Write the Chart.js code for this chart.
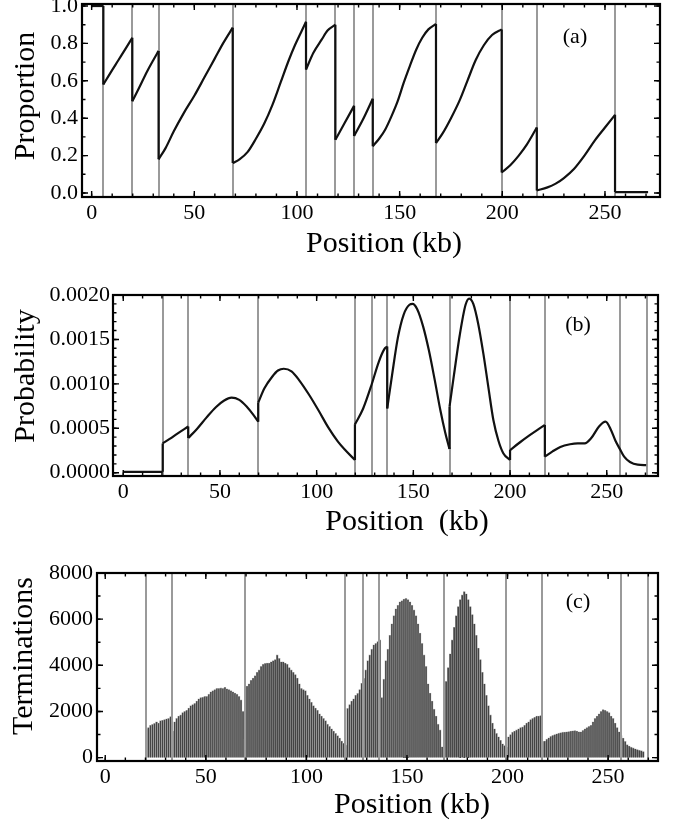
<!DOCTYPE html>
<html>
<head>
<meta charset="utf-8">
<script src="https://cdn.jsdelivr.net/npm/chart.js@4.4.0/dist/chart.umd.min.js"></script>
<style>
  html, body { margin: 0; padding: 0; background: #fff; }
  .panel { position: absolute; left: 0; width: 674px; }
  #wrapA { top: 0; height: 270px; }
  #wrapB { top: 270px; height: 270px; }
  #wrapC { top: 540px; height: 290px; }
</style>
</head>
<body>
<div class="panel" id="wrapA"><canvas id="chartA" width="674" height="270"></canvas></div>
<div class="panel" id="wrapB"><canvas id="chartB" width="674" height="270"></canvas></div>
<div class="panel" id="wrapC"><canvas id="chartC" width="674" height="290"></canvas></div>
<script>
// shared tick values
const xTicks = [0, 50, 100, 150, 200, 250];
const yTicksA = [0, 0.2, 0.4, 0.6, 0.8, 1.0];
const yTicksB = [0, 0.0005, 0.001, 0.0015, 0.002];
const yTicksC = [0, 2000, 4000, 6000, 8000];

// (a) proportion along the chromosome, one list of [kb, value] per segment
const proportionSegs = [
    [[0, 1.0], [5.7, 1.0]],
    [[5.7, 0.58], [9, 0.64], [13, 0.71], [17, 0.78], [19.8, 0.83]],
    [[19.8, 0.49], [23, 0.56], [27, 0.65], [30, 0.71], [32.6, 0.76]],
    [[32.6, 0.18], [36, 0.24], [40, 0.33], [45, 0.43], [50, 0.52], [55, 0.62], [60, 0.72], [64, 0.80], [68.7, 0.884]],
    [[68.7, 0.16], [72, 0.18], [76, 0.22], [80, 0.29], [84, 0.37], [88, 0.47], [92, 0.59], [96, 0.71], [99, 0.79], [102, 0.86], [104.4, 0.916]],
    [[104.4, 0.66], [108, 0.75], [112, 0.82], [115, 0.87], [118.7, 0.90]],
    [[118.7, 0.285], [123, 0.37], [127.8, 0.466]],
    [[127.8, 0.305], [132, 0.39], [136.9, 0.504]],
    [[136.9, 0.25], [140, 0.29], [143, 0.34], [146, 0.41], [149, 0.49], [152, 0.59], [155, 0.68], [158, 0.765], [161, 0.83], [164, 0.875], [167.7, 0.904]],
    [[167.7, 0.267], [171, 0.32], [175, 0.40], [179, 0.49], [183, 0.60], [187, 0.71], [191, 0.79], [195, 0.845], [199.7, 0.875]],
    [[199.7, 0.11], [204, 0.15], [208, 0.20], [212, 0.26], [216.8, 0.35]],
    [[216.8, 0.014], [222, 0.03], [226, 0.05], [230, 0.08], [235, 0.13], [240, 0.20], [245, 0.28], [250, 0.35], [254.9, 0.418]],
    [[254.9, 0.005], [271, 0.005]]
];
const originsA = [5.7, 19.8, 32.6, 68.7, 104.4, 118.7, 127.8, 136.9, 167.7, 199.7, 216.8, 254.9];

// (b) termination probability
const probabilitySegs = [
    [[0, 0.00001], [20.4, 0.00001]],
    [[20.4, 0.00033], [24, 0.00038], [28, 0.00044], [33.6, 0.00052]],
    [[33.6, 0.00039], [38, 0.00049], [43, 0.00062], [48, 0.00074], [52, 0.00081], [56, 0.000845], [60, 0.00082], [64, 0.00074], [67, 0.00066], [69.8, 0.000574]],
    [[69.8, 0.00079], [73, 0.00095], [77, 0.00108], [80, 0.00115], [83, 0.00117], [87, 0.00114], [91, 0.00104], [96, 0.00088], [101, 0.00070], [106, 0.00051], [111, 0.00035], [115, 0.00025], [119.8, 0.000143]],
    [[119.8, 0.000544], [124, 0.00072], [128.4, 0.00099], [132, 0.00124], [135, 0.00139], [136.5, 0.00142]],
    [[136.5, 0.000724], [139, 0.0011], [142, 0.00152], [145, 0.00178], [148, 0.00189], [149.6, 0.0019], [152, 0.00184], [155, 0.00165], [158, 0.00138], [161, 0.00105], [164, 0.00070], [166.5, 0.00045], [168.7, 0.000266]],
    [[168.7, 0.000743], [171, 0.0011], [174, 0.00155], [177, 0.00189], [178.9, 0.00196], [181, 0.00190], [183.5, 0.00168], [186.2, 0.00134], [188.8, 0.00096], [191.4, 0.00059], [194, 0.00036], [196.5, 0.00022], [200, 0.000143]],
    [[200, 0.000255], [205, 0.00034], [210, 0.00042], [214, 0.00048], [218, 0.000537]],
    [[218, 0.00018], [222, 0.00024], [226, 0.00029], [231, 0.00032], [235, 0.00033], [238.6, 0.00033], [242, 0.00039], [246, 0.00052], [249.4, 0.000574], [252, 0.00049], [254.5, 0.00036], [256.6, 0.000274], [259, 0.00018], [262, 0.00012], [266, 0.00009], [270.4, 0.000086]]
];
const originsB = [20.4, 33.6, 69.8, 119.8, 128.4, 136.5, 168.7, 200, 218, 256.8, 270.6];

// (c) terminations per 1 kb bin, first bin starts at 20 kb
const binStart = 20;
const terminations = [
    1260, 1300, 1400, 1440, 1480, 1550, 1500, 1600, 1620, 1650,
    1680, 1700, 1780, 1150, 1550, 1700, 1800, 1850, 1950, 2000,
    2050, 2150, 2250, 2300, 2350, 2450, 2550, 2600, 2620, 2650,
    2650, 2750, 2850, 2900, 2950, 3000, 3000, 3020, 3000, 3050,
    2980, 2950, 2900, 2850, 2800, 2750, 2650, 2500, 2000, 800,
    3100, 3200, 3350, 3450, 3550, 3700, 3800, 3950, 4050, 4080,
    4100, 4100, 4150, 4200, 4250, 4450, 4300, 4150, 4150, 4100,
    4050, 3900, 3800, 3700, 3600, 3450, 3200, 3000, 2950, 2900,
    2700, 2550, 2400, 2250, 2150, 2050, 1900, 1800, 1700, 1600,
    1450, 1350, 1250, 1150, 1050, 950, 850, 720, 620, 540,
    2130, 2300, 2450, 2550, 2700, 2780, 2950, 3220, 3430, 3800,
    4200, 4450, 4700, 4890, 4950, 5030, 5100, 2600, 3400, 4200,
    4700, 5300, 5800, 6150, 6450, 6600, 6750, 6800, 6870, 6900,
    6850, 6750, 6600, 6400, 6150, 5800, 5400, 4950, 4450, 3950,
    3200, 2800, 2450, 2100, 1800, 1450, 1200, 470, 2000, 3300,
    3900, 4500, 5100, 5650, 6150, 6550, 6850, 7050, 7200, 7100,
    6850, 6550, 6200, 5800, 5300, 4750, 4250, 3700, 3200, 2700,
    2250, 1850, 1500, 1250, 1050, 900, 750, 600, 520, 450,
    900, 1000, 1100, 1150, 1200, 1250, 1300, 1330, 1400, 1500,
    1550, 1650, 1700, 1750, 1800, 1800, 1820, 700, 720, 800,
    860, 920, 960, 1000, 1030, 1060, 1080, 1100, 1110, 1120,
    1130, 1150, 1160, 1170, 1150, 1120, 1120, 1180, 1250, 1300,
    1350, 1400, 1550, 1700, 1800, 1900, 2000, 2080, 2050, 2000,
    1950, 1800, 1700, 1500, 1300, 1120, 950, 850, 700, 560,
    500, 450, 420, 380, 350, 320, 300, 260
];
const originsC = [20.2, 33.1, 69.5, 119.2, 128, 136.1, 168.4, 199.2, 217.1, 256.3, 269.9];

const SERIF = '"Liberation Serif", "Times New Roman", "DejaVu Serif", serif';

// gray vertical lines at the origin positions
const originLines = {
    id: 'originLines',
    draw(chart, opts) {
        const { ctx, chartArea: a, scales: { x } } = chart;
        ctx.save();
        ctx.strokeStyle = '#9a9a9a';
        ctx.lineWidth = 2;
        opts.positions.forEach(v => {
            const px = Math.round(x.getPixelForValue(v));
            ctx.beginPath();
            ctx.moveTo(px, a.top);
            ctx.lineTo(px, a.bottom);
            ctx.stroke();
        });
        ctx.restore();
    },
    beforeDatasetsDraw(chart, args, opts) { if (!opts.above) this.draw(chart, opts); },
    afterDatasetsDraw(chart, args, opts) { if (opts.above) this.draw(chart, opts); }
};

// frame with inward major/minor ticks on all four sides, axis titles and panel tag
const frameTicks = {
    id: 'frameTicks',
    afterDraw(chart, args, opts) {
        const { ctx, chartArea: a, scales: { x, y } } = chart;
        ctx.save();
        ctx.strokeStyle = '#000';
        ctx.lineWidth = 1.4;
        const marks = (scale, step, len, horiz) => {
            for (let k = Math.ceil(scale.min / step - 1e-9); k * step <= scale.max + 1e-12; k++) {
                const p = scale.getPixelForValue(k * step);
                ctx.beginPath();
                if (horiz) {
                    ctx.moveTo(p, a.bottom); ctx.lineTo(p, a.bottom - len);
                    ctx.moveTo(p, a.top); ctx.lineTo(p, a.top + len);
                } else {
                    ctx.moveTo(a.left, p); ctx.lineTo(a.left + len, p);
                    ctx.moveTo(a.right, p); ctx.lineTo(a.right - len, p);
                }
                ctx.stroke();
            }
        };
        marks(x, opts.xMajor, 6, true);
        marks(x, opts.xMinor, 3.5, true);
        marks(y, opts.yMajor, 6, false);
        marks(y, opts.yMinor, 3.5, false);

        ctx.lineWidth = 2.2;
        ctx.strokeRect(a.left, a.top, a.right - a.left, a.bottom - a.top);

        ctx.fillStyle = '#000';
        ctx.textAlign = 'center';
        ctx.textBaseline = 'middle';
        ctx.font = '22px ' + SERIF;
        ctx.fillText(opts.tag, a.right - opts.tagDx, a.top + opts.tagDy);

        ctx.font = '30px ' + SERIF;
        ctx.fillText(opts.xTitle, opts.xTitleAt[0], opts.xTitleAt[1]);
        ctx.translate(opts.yTitleAt[0], opts.yTitleAt[1]);
        ctx.rotate(-Math.PI / 2);
        ctx.fillText(opts.yTitle, 0, 0);
        ctx.restore();
    }
};

function makeOptions(cfg) {
    const noPad = s => { s.paddingTop = 0; s.paddingBottom = 0; s.paddingLeft = 0; s.paddingRight = 0; };
    return {
        responsive: false,
        animation: false,
        layout: { autoPadding: false, padding: { left: 0, right: cfg.padRight, top: cfg.padTop, bottom: 0 } },
        plugins: {
            legend: { display: false },
            tooltip: { enabled: false },
            originLines: { positions: cfg.origins, above: !!cfg.linesAbove },
            frameTicks: {
                xMajor: 50, xMinor: 10, yMajor: cfg.yStep, yMinor: cfg.yMinor,
                tag: cfg.tag, tagDx: cfg.tagDx, tagDy: cfg.tagDy,
                xTitle: cfg.xTitle, xTitleAt: cfg.xTitleAt, yTitle: cfg.yTitle, yTitleAt: cfg.yTitleAt
            }
        },
        scales: {
            x: {
                type: 'linear',
                min: cfg.xMin,
                max: cfg.xMax,
                offset: false,
                grid: { display: false, drawTicks: false },
                border: { display: false },
                ticks: {
                    autoSkip: false, maxRotation: 0,
                    padding: cfg.xTickPad, color: '#000', font: { family: SERIF, size: 22 },
                    callback: v => String(v)
                },
                afterBuildTicks: s => { s.ticks = xTicks.map(v => ({ value: v })); },
                afterFit: s => { s.height = cfg.xHeight; noPad(s); }
            },
            y: {
                type: 'linear',
                min: cfg.yMin,
                max: cfg.yMax,
                grid: { display: false, drawTicks: false },
                border: { display: false },
                ticks: {
                    autoSkip: false,
                    padding: cfg.yTickPad, color: '#000', font: { family: SERIF, size: 22 },
                    callback: cfg.yFormat
                },
                afterBuildTicks: s => { s.ticks = cfg.yTicks.map(v => ({ value: v })); },
                afterFit: s => { s.width = cfg.yWidth; noPad(s); }
            }
        }
    };
}

// one monotone curve per segment, plus straight black jumps between segments
function curveDatasets(segs) {
    const sets = segs.map(seg => ({
        type: 'line',
        data: seg.map(p => ({ x: p[0], y: p[1] })),
        borderColor: '#111',
        borderWidth: 2.2,
        pointRadius: 0,
        fill: false,
        cubicInterpolationMode: 'monotone'
    }));
    const jumps = [];
    for (let i = 1; i < segs.length; i++) {
        const prev = segs[i - 1][segs[i - 1].length - 1];
        const next = segs[i][0];
        jumps.push({ x: prev[0], y: prev[1] }, { x: next[0], y: next[1] }, { x: next[0], y: null });
    }
    sets.push({
        type: 'line', data: jumps, borderColor: '#111', borderWidth: 2.2,
        pointRadius: 0, fill: false, tension: 0, spanGaps: false
    });
    return sets;
}

new Chart(document.getElementById('chartA'), {
    type: 'line',
    data: { datasets: curveDatasets(proportionSegs) },
    options: makeOptions({
        padRight: 14, padTop: 4, xHeight: 73, yWidth: 82,
        xMin: -4.7, xMax: 276.8, yMin: -0.0214, yMax: 1.0107,
        yTicks: yTicksA, yStep: 0.2, yMinor: 0.1, yFormat: v => v.toFixed(1),
        xTitle: 'Position (kb)', yTitle: 'Proportion',
        xTitleAt: [384, 244], yTitleAt: [26, 96],
        xTickPad: 3, yTickPad: 4,
        origins: originsA, tag: '(a)', tagDx: 85, tagDy: 33
    }),
    plugins: [originLines, frameTicks]
});

new Chart(document.getElementById('chartB'), {
    type: 'line',
    data: { datasets: curveDatasets(probabilitySegs) },
    options: makeOptions({
        padRight: 16, padTop: 25, xHeight: 64, yWidth: 113,
        xMin: -5.3, xMax: 276.5, yMin: -0.000037, yMax: 0.002,
        yTicks: yTicksB, yStep: 0.0005, yMinor: 0.0001, yFormat: v => v.toFixed(4),
        xTitle: 'Position  (kb)', yTitle: 'Probability',
        xTitleAt: [407, 252], yTitleAt: [26, 106],
        xTickPad: 3, yTickPad: 3,
        origins: originsB, tag: '(b)', tagDx: 80, tagDy: 30
    }),
    plugins: [originLines, frameTicks]
});

new Chart(document.getElementById('chartC'), {
    type: 'bar',
    data: {
        datasets: [{
            data: terminations.map((v, i) => ({ x: binStart + i + 0.5, y: v })),
            backgroundColor: '#444444',
            borderColor: '#ababab',
            borderWidth: 0.6,
            barPercentage: 1,
            categoryPercentage: 1
        }]
    },
    options: makeOptions({
        padRight: 16, padTop: 33, xHeight: 69, yWidth: 97,
        xMin: -4.1, xMax: 274.8, yMin: -148, yMax: 8000,
        yTicks: yTicksC, yStep: 2000, yMinor: 1000, yFormat: v => String(v),
        xTitle: 'Position (kb)', yTitle: 'Terminations',
        xTitleAt: [412, 265], yTitleAt: [24, 116],
        xTickPad: 3, yTickPad: 4,
        origins: originsC, linesAbove: true, tag: '(c)', tagDx: 80, tagDy: 29
    }),
    plugins: [originLines, frameTicks]
});
</script>
</body>
</html>
